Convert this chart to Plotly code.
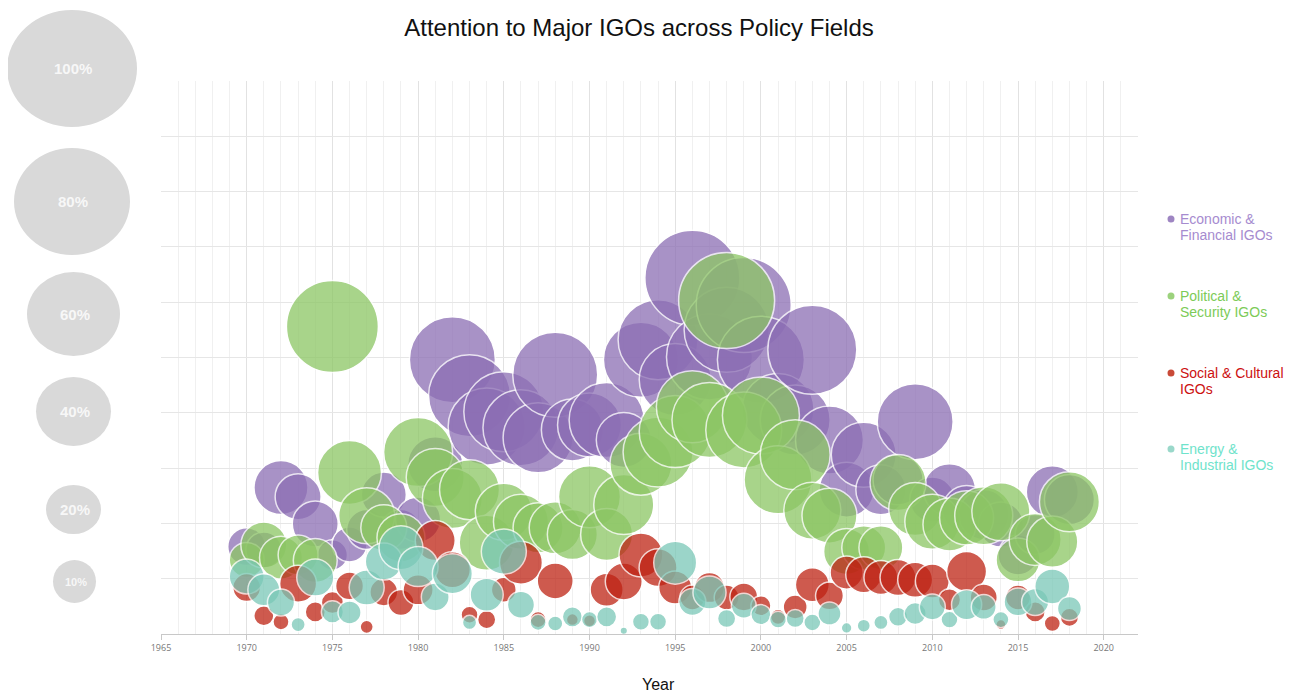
import plotly.graph_objects as go

# ---------------- data ----------------
years = list(range(1970, 2019))

# vertical position (attention score, grid units 0-10)
econ_y = [1.58, 1.52, 2.65, 2.48, 1.99, 1.43, 1.62, 1.89, 2.52, 1.89, 2.07, 3.07, 4.96, 4.31, 3.75,
          4.02, 3.73, 3.55, 4.69, 3.69, 3.78, 3.87, 3.51, 4.96, 5.32, 4.60, 6.44, 5.01, 5.50, 5.95,
          4.96, 4.06, 3.87, 5.14, 3.51, 2.61, 3.24, 2.61, 2.79, 3.84, 2.43, 2.61, 2.25, 2.16, 1.98,
          1.43, 1.80, 2.57, 2.43]
pol_y = [1.34, 1.61, 1.38, 1.43, 1.33, 5.56, 2.92, 2.14, 1.92, 1.74, 3.29, 2.83, 2.45, 2.61, 1.65,
         2.21, 2.03, 1.92, 1.92, 1.80, 2.48, 1.80, 2.34, 3.07, 3.29, 3.66, 4.11, 3.87, 6.03, 3.69,
         3.95, 2.79, 3.24, 2.23, 2.14, 1.49, 1.56, 1.56, 2.74, 2.26, 2.03, 1.98, 2.10, 2.14, 2.21,
         1.34, 1.71, 1.67, 2.39]
soc_y = [0.84, 0.33, 0.22, 0.91, 0.40, 0.57, 0.87, 0.13, 0.76, 0.57, 0.80, 1.69, 1.16, 0.35, 0.26,
         0.80, 1.29, 0.26, 0.96, 0.26, 0.24, 0.80, 0.95, 1.43, 1.20, 0.84, 0.66, 0.84, 0.66, 0.67,
         0.51, 0.31, 0.49, 0.89, 0.69, 1.11, 1.07, 1.02, 1.02, 0.98, 0.96, 0.62, 1.13, 0.66, 0.17,
         0.66, 0.40, 0.19, 0.30]
ene_y = [1.04, 0.80, 0.57, 0.17, 1.02, 0.40, 0.39, 0.84, 1.31, 1.56, 1.22, 0.67, 1.09, 0.21, 0.71,
         1.49, 0.53, 0.21, 0.19, 0.31, 0.26, 0.31, 0.06, 0.22, 0.22, 1.29, 0.58, 0.75, 0.28, 0.51,
         0.35, 0.26, 0.28, 0.21, 0.37, 0.11, 0.15, 0.21, 0.31, 0.37, 0.49, 0.26, 0.53, 0.49, 0.26,
         0.58, 0.58, 0.86, 0.46]

# bubble size (share of attention, %)
econ_size = [10.0, 9.0, 20.3, 14.7, 14.7, 6.3, 8.5, 11.1, 14.1, 11.1, 14.1, 21.0, 51.4, 46.7, 41.2,
             44.4, 40.1, 34.0, 50.2, 26.7, 28.4, 39.1, 21.0, 39.1, 44.4, 36.0, 62.7, 51.4, 50.2, 62.7,
             52.6, 36.0, 34.0, 55.0, 32.1, 21.0, 29.3, 17.4, 17.4, 40.1, 14.1, 18.8, 16.0, 17.4, 14.1,
             11.1, 11.1, 18.8, 17.4]
pol_size = [8.5, 14.7, 12.8, 11.1, 13.4, 58.8, 28.4, 21.8, 14.7, 16.0, 33.1, 23.4, 25.0, 25.0, 21.0,
            22.6, 21.0, 17.4, 18.8, 17.4, 26.7, 18.8, 25.0, 26.7, 34.0, 36.0, 36.0, 39.1, 64.0, 40.1,
            41.2, 32.1, 34.0, 22.6, 21.0, 14.7, 13.4, 13.4, 21.8, 19.5, 21.0, 19.5, 20.3, 23.4, 23.4,
            13.4, 18.8, 18.1, 25.0]
soc_size = [5.4, 2.8, 1.8, 9.5, 2.8, 3.4, 5.4, 1.2, 5.4, 4.7, 6.3, 11.1, 9.0, 2.0, 2.3,
            4.3, 12.8, 1.8, 9.0, 1.0, 1.0, 7.6, 9.5, 13.4, 10.0, 7.6, 4.3, 6.3, 4.3, 5.4,
            2.8, 1.6, 4.0, 8.0, 5.4, 7.6, 9.0, 8.0, 9.0, 8.5, 8.0, 3.4, 11.1, 5.1, 0.7,
            4.3, 2.8, 1.8, 2.3]
ene_size = [8.5, 7.1, 5.1, 1.4, 9.5, 3.4, 3.7, 8.5, 9.5, 13.4, 11.1, 5.4, 11.1, 1.4, 7.6,
            14.1, 5.1, 1.8, 1.6, 2.8, 1.8, 2.8, 0.4, 2.0, 2.0, 12.8, 5.1, 7.6, 2.3, 4.3,
            2.8, 2.0, 2.3, 2.0, 3.7, 0.8, 1.2, 1.4, 2.5, 3.4, 4.7, 2.0, 6.3, 4.3, 1.8,
            5.4, 5.1, 8.5, 4.0]

series_names = ["Economic &<br>Financial IGOs", "Political &<br>Security IGOs",
                "Social & Cultural<br>IGOs", "Energy &<br>Industrial IGOs"]
size_legend_labels = ["100%", "80%", "60%", "40%", "20%", "10%"]
x_tick_years = list(range(1965, 2021, 5))

# ---------------- layout helpers ----------------
PAGE_OFF = 8                      # default body margin of the page
W, H = 1277, 686
ML, MR, MT, MB = 153, 147, 73, 60
PW, PH = W - ML - MR, H - MT - MB


def pxx(px):
    """page pixel x -> paper x"""
    return (px - PAGE_OFF - ML) / PW


def pxy(py):
    """page pixel y -> paper y"""
    return (H - MB - (py - PAGE_OFF)) / PH


D100 = 120.0  # pixel diameter of a 100% bubble
SIZEREF = 200.0 / D100 ** 2

marker_colors = ["rgb(140,110,180)", "rgb(140,198,100)", "rgb(190,35,20)", "rgb(122,200,183)"]
text_colors = ["#A68BCF", "#7CCB57", "#CC1010", "#6FE3CB"]
dot_colors = ["#9E85C2", "#9CD27D", "#C94A38", "#9AD8CA"]

fig = go.Figure()
for ys, ss, col, nm in zip([econ_y, pol_y, soc_y, ene_y],
                           [econ_size, pol_size, soc_size, ene_size],
                           marker_colors, series_names):
    fig.add_trace(go.Scatter(
        x=years, y=ys, mode="markers", name=nm.replace("<br>", " "),
        showlegend=False,
        marker=dict(size=ss, sizemode="area", sizeref=SIZEREF, sizemin=0,
                    color=col, opacity=0.75,
                    line=dict(color="white", width=1.5)),
        hovertemplate="%{x}: %{marker.size}%<extra></extra>",
    ))

shapes = []
annotations = []

# size legend on the left (gray ellipses), page pixel boxes
size_legend_boxes = [(7, 137, 10, 127, 15), (14, 130, 148, 255, 15), (27, 120, 272, 356, 15),
                     (36, 111, 377, 446, 15), (46, 101, 485, 534, 15), (53, 96, 560, 603, 11)]
for lab, (x0, x1, y0, y1, fs) in zip(size_legend_labels, size_legend_boxes):
    shapes.append(dict(type="circle", xref="paper", yref="paper",
                       x0=pxx(x0), x1=pxx(x1), y0=pxy(y1), y1=pxy(y0),
                       fillcolor="#D9D9D9", line=dict(width=0), layer="above"))
    annotations.append(dict(text="<b>" + lab + "</b>", xref="paper", yref="paper",
                            x=pxx((x0 + x1) / 2 + 1), y=pxy((y0 + y1) / 2), showarrow=False,
                            xanchor="center", yanchor="middle",
                            font=dict(family="Liberation Sans, Arial", size=fs, color="#F7F7F7")))

# series legend on the right
legend_rows = [219, 296, 373, 449]
for nm, tc, dc, ry in zip(series_names, text_colors, dot_colors, legend_rows):
    shapes.append(dict(type="circle", xref="paper", yref="paper",
                       x0=pxx(1167.5), x1=pxx(1174.5), y0=pxy(ry + 3.5), y1=pxy(ry - 3.5),
                       fillcolor=dc, line=dict(width=0)))
    lines = nm.split("<br>")
    for i, ln in enumerate(lines):
        annotations.append(dict(text=ln, xref="paper", yref="paper",
                                x=pxx(1178), y=pxy(ry + 16 * i), showarrow=False,
                                xanchor="left", yanchor="middle", align="left",
                                font=dict(family="Liberation Sans, Arial", size=14, color=tc)))

# x-axis title
annotations.append(dict(text="Year", xref="paper", yref="paper", x=pxx(658), y=pxy(684),
                        showarrow=False, xanchor="center", yanchor="middle",
                        font=dict(family="Liberation Sans, Arial", size=16, color="#111")))

fig.update_layout(
    width=W, height=H,
    margin=dict(l=ML, r=MR, t=MT, b=MB),
    paper_bgcolor="white", plot_bgcolor="white",
    title=dict(text="Attention to Major IGOs across Policy Fields",
               x=(639 - PAGE_OFF) / W, xanchor="center", y=1 - (28 - PAGE_OFF) / H, yanchor="middle",
               xref="container", yref="container",
               font=dict(family="Liberation Sans, Arial", size=24, color="#111")),
    showlegend=False,
    shapes=shapes,
    annotations=annotations,
    xaxis=dict(range=[1965, 2022], tickmode="array", tickvals=x_tick_years,
               ticktext=[str(v) for v in x_tick_years],
               showgrid=True, gridcolor="#E2E2E2", gridwidth=1,
               minor=dict(dtick=1, tick0=1965, showgrid=True, gridcolor="#F0F0F0", gridwidth=1),
               showline=True, linecolor="#C8C8C8", linewidth=1,
               ticks="outside", ticklen=5, tickcolor="#C8C8C8",
               tickfont=dict(family="Open Sans, Liberation Sans", size=9, color="#777"),
               zeroline=False, fixedrange=True),
    yaxis=dict(range=[0, 10], dtick=1, tick0=0, showticklabels=False,
               showgrid=True, gridcolor="#E6E6E6", gridwidth=1,
               zeroline=False, showline=False, ticks="", fixedrange=True),
)

fig.write_html("out.html")
